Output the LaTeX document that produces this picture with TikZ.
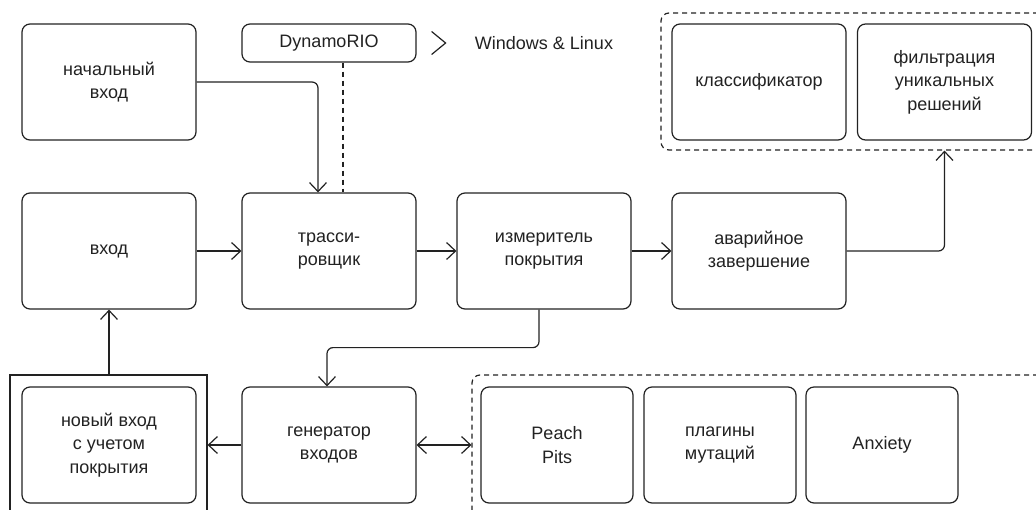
\documentclass[tikz,border=0pt]{standalone}
\usepackage{fontspec}
\setmainfont{Liberation Sans}
\usetikzlibrary{arrows.meta,calc}
\definecolor{ink}{HTML}{222222}
\tikzset{
  box/.style={draw=ink, line width=1.2pt, rounded corners=8pt, inner sep=0pt,
    minimum width=174pt, minimum height=116pt, align=center, text=ink,
    font=\fontsize{18}{23.5}\selectfont},
  narrow/.style={minimum width=152pt},
  grp/.style={draw=ink, line width=1.2pt, dash pattern=on 5pt off 4pt, rounded corners=8pt, inner sep=0pt},
  frame/.style={draw=ink, line width=1.2pt, inner sep=0pt},
  conn/.style={draw=ink, line width=1.2pt, rounded corners=6pt},
  arr/.style={conn, -{Straight Barb[length=9pt,width=17pt]}},
  darr/.style={conn, {Straight Barb[length=9pt,width=17pt]}-{Straight Barb[length=9pt,width=17pt]}},
  lbl/.style={text=ink, font=\fontsize{18}{23.5}\selectfont, inner sep=0pt}
}
\begin{document}
\begin{tikzpicture}[x=1pt,y=-1pt]
\useasboundingbox (0,0) rectangle (1036,509);
\clip (0,0) rectangle (1036,509);
\fill[white] (0,0) rectangle (1036,509);
% groups
\node[grp, minimum width=385pt, minimum height=137pt] (topgrp) at (853.5,81.5) {};
\node[grp, minimum width=574pt, minimum height=145pt] (botgrp) at (759,447.5) {};
\node[frame, minimum width=197pt, minimum height=145pt] (outer) at (108.5,447.5) {};
% boxes
\node[box] (start) at (109,82) {начальный\\вход};
\node[box, minimum height=38pt] (dyn) at (329,43) {DynamoRIO};
\node[lbl] (win) at (544,43) {Windows \& Linux};
\node[box] (input) at (109,251) {вход};
\node[box] (tracer) at (329,251) {трасси-\\ровщик};
\node[box] (meter) at (544,251) {измеритель\\покрытия};
\node[box] (crash) at (759,251) {аварийное\\завершение};
\node[box] (classif) at (759,82) {классификатор};
\node[box] (filter) at (944.5,82) {фильтрация\\уникальных\\решений};
\node[box] (newin) at (109,445) {новый вход\\с учетом\\покрытия};
\node[box] (gen) at (329,445) {генератор\\входов};
\node[box, narrow] (peach) at (557,445) {Peach\\Pits};
\node[box, narrow] (plug) at (720,445) {плагины\\мутаций};
\node[box, narrow] (anx) at (882,445) {Anxiety};
% chevron
\draw[ink, line width=1.2pt] ($(dyn.east)+(15,-11.5)$) coordinate (c1) -- ++(14,11.5) -- ++(-14,11.5);
% connectors
\draw[arr] (start.east) -| ([xshift=-11pt]tracer.north);
\draw[conn, dash pattern=on 5pt off 4pt] ([xshift=14pt]dyn.south) -- ([xshift=14pt]tracer.north);
\draw[arr] (input) -- (tracer);
\draw[arr] (tracer) -- (meter);
\draw[arr] (meter) -- (crash);
\draw[arr] (crash.east) -| (topgrp.south -| filter);
\draw[arr] ([xshift=-5pt]meter.south) -- ++(0,38) -| ([xshift=-2pt]gen.north);
\draw[arr] (gen.west) -- (outer.east |- gen.west);
\draw[darr] (gen.east) -- (botgrp.west |- gen.east);
\draw[arr] (outer.north -| input.south) -- (input.south);
\end{tikzpicture}
\end{document}
